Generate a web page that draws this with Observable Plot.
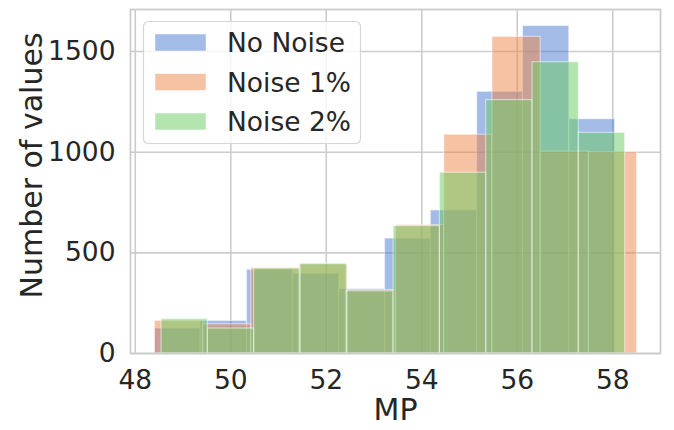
<!DOCTYPE html>
<html>
<head>
<meta charset="utf-8">
<script src="https://cdn.jsdelivr.net/npm/d3@7"></script>
<script src="https://cdn.jsdelivr.net/npm/@observablehq/plot@0.6"></script>
<style>
  html, body { margin: 0; padding: 0; background: white; }
  svg { display: block; }
</style>
</head>
<body>
<div id="chart"></div>
<script>
// Histograms of MP for three noise levels (10 bins each)
const seriesNames = ["No Noise", "Noise 1%", "Noise 2%"];
const seriesColors = ["#4878d0", "#ee854a", "#6acc64"];

const edgesNoNoise = [48.41, 49.37, 50.34, 51.30, 52.27, 53.23, 54.19, 55.16, 56.12, 57.09, 58.05];
const countsNoNoise = [124, 162, 416, 396, 320, 571, 711, 1300, 1627, 1164];

const edgesNoise1 = [48.41, 49.42, 50.43, 51.44, 52.45, 53.46, 54.47, 55.48, 56.49, 57.50, 58.51];
const countsNoise1 = [162, 145, 425, 442, 315, 638, 1087, 1573, 1003, 1000];

const edgesNoise2 = [48.55, 49.52, 50.49, 51.46, 52.43, 53.41, 54.38, 55.35, 56.32, 57.29, 58.26];
const countsNoise2 = [171, 124, 422, 446, 309, 633, 898, 1259, 1447, 1096];

const xTicks = [48, 50, 52, 54, 56, 58];
const yTicks = [0, 500, 1000, 1500];

const allEdges = [edgesNoNoise, edgesNoise1, edgesNoise2];
const allCounts = [countsNoNoise, countsNoise1, countsNoise2];

// one table of bins per series
const binTables = allCounts.map((counts, s) =>
  counts.map((c, i) => ({x1: allEdges[s][i], x2: allEdges[s][i + 1], count: c, series: seriesNames[s]}))
);

const font = "DejaVu Sans, sans-serif";
const ink = "#262626";
const tickFont = 26.5;
const labelFont = 30;

const chart = Plot.plot({
  width: 674,
  height: 430,
  marginLeft: 130,
  marginRight: 14,
  marginTop: 9,
  marginBottom: 77,
  style: {fontFamily: font, background: "white", color: ink},
  x: {domain: [47.9, 59.0]},
  y: {domain: [0, 1709]},
  marks: [
    Plot.gridX(xTicks, {stroke: "#cccccc", strokeOpacity: 1, strokeWidth: 1.6}),
    Plot.gridY(yTicks, {stroke: "#cccccc", strokeOpacity: 1, strokeWidth: 1.6}),
    ...binTables.map((bins, s) =>
      Plot.rectY(bins, {
        x1: "x1", x2: "x2", y: "count",
        fill: seriesColors[s], fillOpacity: 0.5,
        stroke: "white", strokeOpacity: 0.5, strokeWidth: 1.2
      })
    ),
    Plot.frame({stroke: "#cccccc", strokeWidth: 1.8}),
    Plot.axisX(xTicks, {tickSize: 0, tickPadding: 17, fontSize: tickFont, label: null, fill: ink, tickFormat: d3.format("d")}),
    Plot.axisY(yTicks, {tickSize: 0, tickPadding: 15, fontSize: tickFont, label: null, fill: ink, tickFormat: d3.format("d")}),
    Plot.text(["MP"], {frameAnchor: "bottom", lineAnchor: "middle", dy: 56.5, fontSize: labelFont, fill: ink}),
    Plot.text(["Number of values"], {frameAnchor: "left", textAnchor: "middle", lineAnchor: "middle", dx: -98, dy: -16, rotate: -90, fontSize: labelFont, fill: ink})
  ]
});

document.getElementById("chart").appendChild(chart);

// legend box in the upper-left corner of the plot area
const svg = d3.select(chart);
const legend = svg.append("g").attr("font-family", font).attr("text-anchor", "start");
legend.append("rect")
  .attr("x", 143.5).attr("y", 21.5).attr("width", 217).attr("height", 122)
  .attr("rx", 5).attr("fill", "white").attr("fill-opacity", 0.8)
  .attr("stroke", "#d6d6d6").attr("stroke-width", 1.2);
seriesNames.forEach((name, i) => {
  const cy = 42.5 + i * 39.5;
  legend.append("rect")
    .attr("x", 155).attr("y", cy - 8.5).attr("width", 51).attr("height", 17)
    .attr("fill", seriesColors[i]).attr("fill-opacity", 0.5)
    .attr("stroke", "white").attr("stroke-opacity", 0.5);
  legend.append("text")
    .attr("x", 227).attr("y", cy).attr("dy", "0.36em")
    .attr("font-size", tickFont).attr("fill", ink)
    .text(name);
});
</script>
</body>
</html>
